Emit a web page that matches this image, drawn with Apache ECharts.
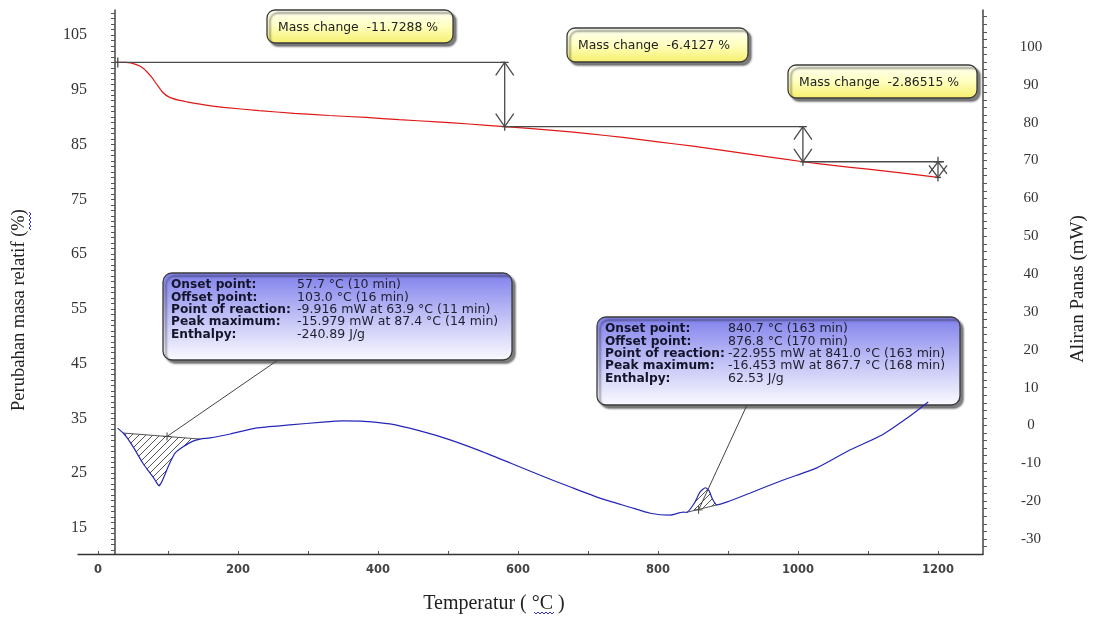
<!DOCTYPE html>
<html>
<head>
<meta charset="utf-8">
<script src="https://cdn.jsdelivr.net/npm/echarts@6/dist/echarts.min.js"></script>
<style>
  html, body { margin: 0; padding: 0; background: #ffffff; }
  #chart { width: 1095px; height: 625px; }
</style>
</head>
<body>
<div id="chart"></div>
<script>
// ---- TG curve: relative mass (%) against temperature (°C)
const tgTemp = [25, 40, 55, 65, 76, 85, 92, 101, 115, 127, 150, 179, 230, 280, 330, 383, 430, 484, 530, 581,
                650, 700, 750, 800, 850, 900, 950, 1007, 1050, 1100, 1150, 1200];
const tgMass = [100, 100, 99.6, 98.9, 97.4, 95.8, 94.6, 93.7, 93.1, 92.8, 92.3, 91.8, 91.2, 90.7, 90.3, 89.95, 89.55, 89.15, 88.75, 88.2712,
                87.6, 87.0, 86.3, 85.5, 84.7, 83.8, 82.9, 81.8585, 81.2, 80.5, 79.8, 78.99335];

// ---- DSC curve: heat flow (mW) against temperature (°C)
const dscTemp = [28, 36, 43, 52, 63.9, 72, 78.6, 83, 87.4, 91.4, 96, 100, 105, 110, 121, 135, 146, 160, 189, 227,
                 274, 321, 350, 380, 417, 460, 503, 546, 589, 631, 674, 717, 760, 789, 817, 836, 841,
                 852, 860, 867.7, 873, 878, 884, 899, 931, 979, 1027, 1074, 1120, 1160, 1186];
const dscFlow = [-0.7, -2.0, -3.6, -6.2, -9.916, -12.0, -13.6, -14.9, -15.979, -14.8, -12.8, -11.0, -9.0, -7.3, -5.7, -4.2, -3.6, -3.3, -2.25, -0.66,
                 0.13, 0.9, 1.2, 1.1, 0.4, -1.45, -3.8, -6.7, -9.9, -13.1, -16.2, -19.2, -21.6, -23.2, -23.7, -22.9, -22.955,
                 -20.5, -17.6, -16.453, -17.3, -19.5, -21.0, -20.2, -17.9, -14.4, -11.2, -6.5, -2.5, 2.5, 6.2];

// ---- mass-loss steps (temperatures bounding each step, change in %)
const stepTemps = [24, 581, 1007, 1200];
const massChanges = [-11.7288, -6.4127, -2.86515];

// ---- integrated DSC peaks: baseline ends [T start, T end]
const peakRanges = [[36, 146], [841, 884]];
const peakMarks = [[98.6, -2.9], [858, -22.3]];

// ---- peak reports
const peakReports = [
  [['Onset point:', '57.7 °C (10 min)'],
   ['Offset point:', '103.0 °C (16 min)'],
   ['Point of reaction:', '-9.916 mW at 63.9 °C (11 min)'],
   ['Peak maximum:', '-15.979 mW at 87.4 °C (14 min)'],
   ['Enthalpy:', '-240.89 J/g']],
  [['Onset point:', '840.7 °C (163 min)'],
   ['Offset point:', '876.8 °C (170 min)'],
   ['Point of reaction:', '-22.955 mW at 841.0 °C (163 min)'],
   ['Peak maximum:', '-16.453 mW at 867.7 °C (168 min)'],
   ['Enthalpy:', '62.53 J/g']]
];

// ---- axis tick labels
const massTicks = [15, 25, 35, 45, 55, 65, 75, 85, 95, 105];
const flowTicks = [-30, -20, -10, 0, 10, 20, 30, 40, 50, 60, 70, 80, 90, 100];
const tempTicks = [0, 200, 400, 600, 800, 1000, 1200];

const massLevels = [100];
massChanges.forEach(d => massLevels.push(massLevels[massLevels.length - 1] + d));
const stepData = massChanges.map((d, i) => [stepTemps[i], stepTemps[i + 1], massLevels[i], massLevels[i + 1], i]);

const tgData = tgTemp.map((t, i) => [t, tgMass[i]]);
const dscData = dscTemp.map((t, i) => [t, dscFlow[i]]);

function range(a, b, s) { const r = []; for (let v = a; v <= b + 1e-9; v += s) r.push(+v.toFixed(4)); return r; }

// diagonal hatch texture
const hatch = document.createElement('canvas');
hatch.width = 7; hatch.height = 7;
(function () {
  const g = hatch.getContext('2d');
  g.strokeStyle = '#555';
  g.lineWidth = 1;
  g.beginPath();
  g.moveTo(-1, 8); g.lineTo(8, -1);
  g.moveTo(-1, 1); g.lineTo(1, -1);
  g.moveTo(6, 8); g.lineTo(8, 6);
  g.stroke();
})();

const FONT = 'DejaVu Sans, Verdana, sans-serif';
const SERIF = 'Liberation Serif, Times New Roman, serif';
const chart = echarts.init(document.getElementById('chart'));

const LINE = { stroke: '#4a4a4a', lineWidth: 1.3 };

function renderStep(params, api) {
  const t0 = api.value(0), t1 = api.value(1), m0 = api.value(2), m1 = api.value(3), idx = api.value(4);
  const a = api.coord([t0, m0]);
  const b = api.coord([t1, m0]);
  const c = api.coord([t1, m1]);
  const last = idx === massChanges.length - 1;
  const hx = 9, hy = last ? 12 : 13;
  const children = [
    { type: 'line', shape: { x1: a[0], y1: a[1], x2: b[0] + (last ? 6 : 0), y2: b[1] }, style: LINE },
    { type: 'line', shape: { x1: b[0], y1: b[1] - (last ? 5 : 0), x2: c[0], y2: c[1] + 4 }, style: LINE },
    { type: 'polyline', shape: { points: [[b[0] - hx, b[1] + hy], [b[0], b[1]], [b[0] + hx, b[1] + hy]] }, style: Object.assign({ fill: null }, LINE) },
    { type: 'polyline', shape: { points: [[c[0] - hx, c[1] - hy], [c[0], c[1]], [c[0] + hx, c[1] - hy]] }, style: Object.assign({ fill: null }, LINE) },
    { type: 'line', shape: { x1: b[0] - 4, y1: b[1], x2: b[0] + 4, y2: b[1] }, style: LINE },
    { type: 'line', shape: { x1: c[0] - 3, y1: c[1], x2: c[0] + 3, y2: c[1] }, style: LINE }
  ];
  if (idx === 0) {
    children.push({ type: 'line', shape: { x1: a[0] + 3, y1: a[1] - 5, x2: a[0] + 3, y2: a[1] + 5 }, style: LINE });
  }
  return { type: 'group', children };
}

function renderPeak(params, api) {
  const ts = api.value(0), te = api.value(1);
  const pts = [];
  const first = dscData.find(p => p[0] >= ts);
  const lastP = [...dscData].reverse().find(p => p[0] <= te);
  dscData.forEach(p => { if (p[0] >= ts && p[0] <= te) pts.push(api.coord(p)); });
  const s = api.coord(first), e = api.coord(lastP);
  return {
    type: 'group',
    children: [
      { type: 'polygon', shape: { points: pts }, style: { fill: { image: hatch, repeat: 'repeat' }, stroke: null } },
      { type: 'line', shape: { x1: s[0], y1: s[1], x2: e[0], y2: e[1] }, style: { stroke: '#555', lineWidth: 1 } }
    ]
  };
}

function renderMark(params, api) {
  const p = api.coord([api.value(0), api.value(1)]);
  return {
    type: 'group',
    children: [
      { type: 'line', shape: { x1: p[0] - 4, y1: p[1], x2: p[0] + 4, y2: p[1] }, style: { stroke: '#444', lineWidth: 1 } },
      { type: 'line', shape: { x1: p[0], y1: p[1] - 4, x2: p[0], y2: p[1] + 4 }, style: { stroke: '#444', lineWidth: 1 } }
    ]
  };
}

chart.setOption({
  animation: false,
  backgroundColor: '#ffffff',
  grid: { left: 78, right: 112, top: 10, bottom: 71 },
  xAxis: {
    type: 'value', min: -28.57, max: 1264.3,
    axisLine: { onZero: false, lineStyle: { color: '#333', width: 1.3 } },
    axisTick: { inside: true, length: 3, customValues: range(0, 1200, 100), lineStyle: { color: '#555' } },
    axisLabel: { customValues: tempTicks, formatter: v => String(v), margin: 10, color: '#444', fontFamily: FONT, fontSize: 11.5, fontWeight: 'bold' },
    splitLine: { show: false }
  },
  yAxis: [
    {
      type: 'value', position: 'left', offset: -37, min: 10.254, max: 109.564,
      axisLine: { show: true, lineStyle: { color: '#444', width: 1.5 } },
      axisTick: { show: true, length: 4, customValues: range(11, 109, 1), lineStyle: { color: '#555' } },
      axisLabel: { customValues: massTicks, margin: 28, color: '#333', fontFamily: SERIF, fontSize: 16 },
      splitLine: { show: false }
    },
    {
      type: 'value', position: 'right', min: -33.963, max: 109.777,
      axisLine: { show: true, lineStyle: { color: '#444', width: 1.5 } },
      axisTick: { show: true, length: 4, customValues: range(-32, 108, 2), lineStyle: { color: '#555' } },
      axisLabel: { customValues: flowTicks, margin: 48, align: 'center', color: '#333', fontFamily: SERIF, fontSize: 15 },
      splitLine: { show: false }
    }
  ],
  series: [
    {
      name: 'Peak areas', type: 'custom', coordinateSystem: 'cartesian2d', yAxisIndex: 1, z: 2,
      renderItem: renderPeak, data: peakRanges, silent: true
    },
    {
      name: 'Heat flow', type: 'line', yAxisIndex: 1, data: dscData, showSymbol: false, z: 3, smooth: 0.2,
      lineStyle: { color: '#2626b8', width: 1.2 }
    },
    {
      name: 'Reaction marks', type: 'custom', coordinateSystem: 'cartesian2d', yAxisIndex: 1, z: 4,
      renderItem: renderMark, data: peakMarks, silent: true
    },
    {
      name: 'Mass', type: 'line', yAxisIndex: 0, data: tgData, showSymbol: false, z: 3, smooth: 0.2,
      lineStyle: { color: '#e01818', width: 1.2 }
    },
    {
      name: 'Mass steps', type: 'custom', coordinateSystem: 'cartesian2d', yAxisIndex: 0, z: 4,
      renderItem: renderStep, data: stepData, silent: true
    }
  ]
});

// ---- annotation boxes
const yellowFill = new echarts.graphic.LinearGradient(0, 0, 0, 1, [
  { offset: 0, color: '#fffff6' }, { offset: 0.5, color: '#ffffc0' }, { offset: 1, color: '#f6ee6a' }
]);
const blueFill = new echarts.graphic.LinearGradient(0, 0, 0, 1, [
  { offset: 0, color: '#8080ec' }, { offset: 0.5, color: '#c0c0f6' }, { offset: 1, color: '#fbfbff' }
]);
const boxShadow = { shadowColor: 'rgba(0,0,0,0.5)', shadowOffsetX: 3, shadowOffsetY: 3, shadowBlur: 2 };

function massBox(x, y, w, h, i) {
  return {
    type: 'group', children: [
      { type: 'rect', shape: { x, y, width: w, height: h, r: 8 },
        style: Object.assign({ fill: yellowFill, stroke: '#3a3a3a', lineWidth: 1.3 }, boxShadow) },
      { type: 'text', x: x + 11, y: y + h / 2 + 1,
        style: { text: 'Mass change  ' + massChanges[i] + ' %', font: '12.4px ' + FONT, fill: '#222', verticalAlign: 'middle' } }
    ]
  };
}

function reportBox(x, y, w, h, lines, valueX) {
  const kids = [
    { type: 'rect', shape: { x, y, width: w, height: h, r: 9 },
      style: Object.assign({ fill: blueFill, stroke: '#3a3a3a', lineWidth: 1.3 }, boxShadow) }
  ];
  lines.forEach((ln, i) => {
    const ty = y + 12 + i * 12.4;
    kids.push({ type: 'text', x: x + 8, y: ty, style: { text: ln[0], font: 'bold 12.2px ' + FONT, fill: '#14142a', verticalAlign: 'middle' } });
    kids.push({ type: 'text', x: valueX, y: ty, style: { text: ln[1], font: '12.5px ' + FONT, fill: '#1e1e2e', verticalAlign: 'middle' } });
  });
  return { type: 'group', children: kids };
}

// spell-check style wavy underline
function squiggle(x0, y0, len, vertical, color) {
  const pts = [];
  for (let i = 0; i <= len; i += 2) {
    const off = (i / 2) % 2 === 0 ? 0 : 2;
    pts.push(vertical ? [x0 + off, y0 + i] : [x0 + i, y0 + off]);
  }
  return { type: 'polyline', shape: { points: pts }, style: { stroke: color, lineWidth: 1, fill: null } };
}

const mk1 = chart.convertToPixel({ seriesIndex: 1 }, peakMarks[0]);
const mk2 = chart.convertToPixel({ seriesIndex: 1 }, peakMarks[1]);

chart.setOption({
  graphic: [
    { type: 'line', shape: { x1: 278, y1: 360, x2: mk1[0], y2: mk1[1] }, style: { stroke: '#444', lineWidth: 1 }, z: 5 },
    { type: 'line', shape: { x1: 747, y1: 405, x2: mk2[0], y2: mk2[1] }, style: { stroke: '#444', lineWidth: 1 }, z: 5 },
    massBox(267, 10, 186, 33, 0),
    massBox(567, 28, 181, 34, 1),
    massBox(788, 65, 189, 33, 2),
    reportBox(163, 273, 349, 87, peakReports[0], 297),
    reportBox(597, 317, 363, 88, peakReports[1], 728),
    { type: 'text', x: 19, y: 310, rotation: Math.PI / 2,
      style: { text: 'Perubahan masa relatif (%)', font: '18.5px ' + SERIF, fill: '#222', align: 'center', verticalAlign: 'middle' } },
    squiggle(29, 212, 18, true, '#3030d0'),
    { type: 'text', x: 1078, y: 289, rotation: Math.PI / 2,
      style: { text: 'Aliran Panas (mW)', font: '19px ' + SERIF, fill: '#222', align: 'center', verticalAlign: 'middle' } },
    { type: 'text', x: 494, y: 604,
      style: { text: 'Temperatur ( °C )', font: '20px ' + SERIF, fill: '#222', align: 'center', verticalAlign: 'middle' } },
    squiggle(534, 612, 20, false, '#3030d0')
  ]
});
</script>
</body>
</html>
